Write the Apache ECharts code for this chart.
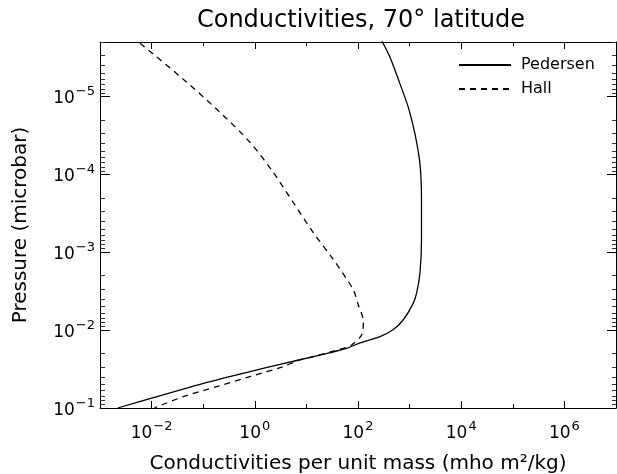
<!DOCTYPE html>
<html>
<head>
<meta charset="utf-8">
<script src="https://cdn.jsdelivr.net/npm/echarts@6/dist/echarts.min.js"></script>
<style>
html, body { margin: 0; padding: 0; background: #ffffff; }
#chart { width: 617px; height: 474px; }
</style>
</head>
<body>
<div id="chart"></div>
<script>
// pressure in microbar, conductivity per unit mass in mho m^2/kg
const pedersenPressure = [1.93e-6, 3.13e-6, 6.9e-6, 1.38e-5, 3.04e-5, 7.4e-5, 2.1e-4, 6.9e-4, 1.83e-3, 3.31e-3, 4.5e-3, 7.36e-3, 9.9e-3, 1.21e-2, 1.46e-2, 1.71e-2, 2.19e-2, 2.75e-2, 3.41e-2, 4.96e-2, 7.37e-2, 0.1];
const pedersenSigma = [288, 417, 651, 944, 1273, 1590, 1700, 1700, 1590, 1373, 1180, 755, 477, 267, 109, 60, 13.6, 3.08, 0.81, 0.087, 0.0108, 0.0022];

const hallPressure = [2.07e-6, 2.86e-6, 6.0e-6, 1.46e-5, 3.88e-5, 9.46e-5, 2.3e-4, 5.6e-4, 1.24e-3, 3.03e-3, 4.72e-3, 7.74e-3, 1.15e-2, 1.55e-2, 1.71e-2, 2.19e-2, 2.41e-2, 2.94e-2, 3.95e-2, 5.32e-2, 7.16e-2, 0.1];
const hallSigma = [0.00596, 0.0108, 0.041, 0.183, 0.807, 2.28, 5.57, 13.6, 33.2, 81, 101, 127, 118, 75.5, 51.9, 13.6, 7.5, 3.57, 0.807, 0.183, 0.041, 0.0113];

const xMajorTicks = [1e-2, 1e0, 1e2, 1e4, 1e6];
const xTickLabels = ["{b|10}{s|−2}", "{b|10}{s|0}", "{b|10}{s|2}", "{b|10}{s|4}", "{b|10}{s|6}"];
const xMinorTicks = [1e-1, 1e1, 1e3, 1e5];

const yMajorTicks = [1e-5, 1e-4, 1e-3, 1e-2, 1e-1];
const yTickLabels = ["{b|10}{s|−5}", "{b|10}{s|−4}", "{b|10}{s|−3}", "{b|10}{s|−2}", "{b|10}{s|−1}"];
const yMinorMultipliers = [2, 3, 4, 5, 6, 7, 8, 9];
const yMinorDecades = [1e-6, 1e-5, 1e-4, 1e-3, 1e-2];

const yMinorTicks = [];
yMinorDecades.forEach(d => yMinorMultipliers.forEach(m => yMinorTicks.push(m * d)));

const X_MIN = 1e-3, X_MAX = 1e7;
const Y_MIN = 2e-6, Y_MAX = 0.1;

const FONT = "DejaVu Sans";
const GRID = { left: 100, right: 1, top: 42, bottom: 66, outerBoundsMode: "none" };
const RICH = {
  b: { fontFamily: FONT, fontSize: 17, color: "#000", lineHeight: 22, verticalAlign: "bottom" },
  s: { fontFamily: FONT, fontSize: 13, color: "#000", lineHeight: 22, verticalAlign: "top", padding: [0, 0, 0, 1] }
};

function labelFor(ticks, labels) {
  return function(value) {
    for (let i = 0; i < ticks.length; i++) {
      if (Math.abs(value - Math.log10(ticks[i])) < 1e-6) return labels[i];
    }
    return "";
  };
}

// grid 0: log axes that carry the curves, the frame and the axis names
function logAxis(gridIndex, position, min, max, inverse) {
  return {
    gridIndex: gridIndex,
    type: "log",
    logBase: 10,
    min: min,
    max: max,
    inverse: inverse,
    position: position,
    axisLine: { show: true, onZero: false, lineStyle: { color: "#000", width: 1 } },
    axisTick: { show: false },
    axisLabel: { show: false },
    splitLine: { show: false }
  };
}

// grids 1 and 2 lie over grid 0 in log10 units and only draw ticks and tick labels
function tickAxis(gridIndex, position, min, max, inverse, ticks, len, color, labels) {
  const values = ticks.map(Math.log10);
  return {
    gridIndex: gridIndex,
    type: "value",
    min: Math.log10(min),
    max: Math.log10(max),
    inverse: inverse,
    position: position,
    axisLine: { show: false, onZero: false },
    axisTick: { show: true, inside: true, length: len, customValues: values, lineStyle: { color: color, width: 1 } },
    axisLabel: labels
      ? { show: true, customValues: values, formatter: labelFor(ticks, labels), rich: RICH, margin: position === "bottom" ? 12 : 5 }
      : { show: false },
    splitLine: { show: false }
  };
}

const xName = logAxis(0, "bottom", X_MIN, X_MAX, false);
xName.name = "Conductivities per unit mass (mho m²/kg)";
xName.nameLocation = "middle";
xName.nameGap = 46;
xName.nameTextStyle = { color: "#000", fontFamily: FONT, fontSize: 20 };

const yName = logAxis(0, "left", Y_MIN, Y_MAX, true);
yName.name = "Pressure (microbar)";
yName.nameLocation = "middle";
yName.nameGap = 69;
yName.nameTextStyle = { color: "#000", fontFamily: FONT, fontSize: 20 };

const chart = echarts.init(document.getElementById("chart"), null, { renderer: "canvas" });
chart.setOption({
  animation: false,
  backgroundColor: "#ffffff",
  title: {
    text: "Conductivities, 70° latitude",
    left: 361,
    textAlign: "center",
    top: 9,
    padding: 0,
    textStyle: { color: "#000", fontFamily: FONT, fontSize: 24, fontWeight: "normal" }
  },
  legend: {
    data: ["Pedersen", "Hall"],
    orient: "vertical",
    left: 458,
    top: 57,
    padding: 0,
    itemWidth: 52,
    itemHeight: 14,
    itemGap: 8,
    itemStyle: { opacity: 0 },
    textStyle: { color: "#000", fontFamily: FONT, fontSize: 16, padding: [0, 0, 0, 5] }
  },
  grid: [GRID, GRID, GRID],
  xAxis: [
    xName,
    logAxis(0, "top", X_MIN, X_MAX, false),
    tickAxis(1, "bottom", X_MIN, X_MAX, false, xMajorTicks, 7, "#000", xTickLabels),
    tickAxis(1, "top", X_MIN, X_MAX, false, xMajorTicks, 7, "#000", null),
    tickAxis(2, "bottom", X_MIN, X_MAX, false, xMinorTicks, 4, "#000", null),
    tickAxis(2, "top", X_MIN, X_MAX, false, xMinorTicks, 4, "#000", null)
  ],
  yAxis: [
    yName,
    logAxis(0, "right", Y_MIN, Y_MAX, true),
    tickAxis(1, "left", Y_MIN, Y_MAX, true, yMajorTicks, 10, "#000", yTickLabels),
    tickAxis(1, "right", Y_MIN, Y_MAX, true, yMajorTicks, 9, "#000", null),
    tickAxis(2, "left", Y_MIN, Y_MAX, true, yMinorTicks, 5, "#333", null),
    tickAxis(2, "right", Y_MIN, Y_MAX, true, yMinorTicks, 4, "#333", null)
  ],
  series: [
    {
      name: "Pedersen",
      type: "line",
      xAxisIndex: 0,
      yAxisIndex: 0,
      symbol: "none",
      smooth: 0.3,
      lineStyle: { color: "#000", width: 1.3, type: "solid" },
      itemStyle: { color: "#000" },
      data: pedersenPressure.map((p, i) => [pedersenSigma[i], p])
    },
    {
      name: "Hall",
      type: "line",
      xAxisIndex: 0,
      yAxisIndex: 0,
      symbol: "none",
      smooth: 0.3,
      lineStyle: { color: "#000", width: 1.3, type: [6, 5] },
      itemStyle: { color: "#000" },
      data: hallPressure.map((p, i) => [hallSigma[i], p])
    }
  ]
});
</script>
</body>
</html>
